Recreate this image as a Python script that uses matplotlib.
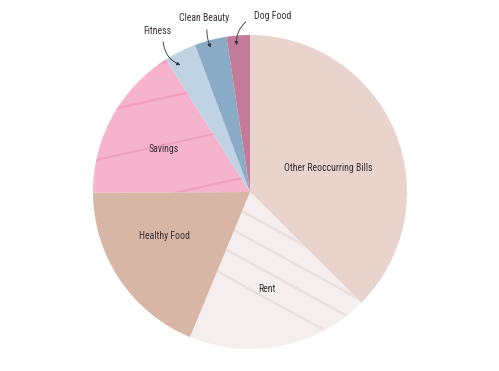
import matplotlib
matplotlib.use("Agg")
import matplotlib.pyplot as plt
import numpy as np
from matplotlib import font_manager

categories = ["Other Reoccurring Bills", "Rent", "Healthy Food", "Savings",
              "Fitness", "Clean Beauty", "Dog Food"]
values = [37.5, 18.8, 18.7, 16.1, 3.3, 3.3, 2.4]
colors = ["#e9d3cd", "#f4eeee", "#d8b6a6", "#f5b4cc", "#bfd3e5", "#8aabc5", "#c27b98"]

names = {f.name for f in font_manager.fontManager.ttflist}
stretch = 'normal'
fam = None
for cand in ["Roboto Condensed", "Liberation Sans Narrow", "Open Sans Condensed", "Noto Sans Condensed"]:
    if cand in names:
        fam = cand
        break
if fam is None:
    fam = "DejaVu Sans"
    stretch = 'condensed'
plt.rcParams['font.family'] = [fam, 'DejaVu Sans']
FS = 6.6 if stretch == 'condensed' else 7.0

W, H = 499, 371
fig = plt.figure(figsize=(W / 100, H / 100), dpi=100)
ax = fig.add_axes([0, 0, 1, 1])
R = 157.0
cx, cy = 250.0, 192.0

wedges, _ = ax.pie(values, colors=colors, startangle=90, counterclock=False,
                   radius=1.0, center=(0, 0), frame=True,
                   wedgeprops=dict(linewidth=0))
ax.set_xlim(-cx / R, (W - cx) / R)
ax.set_ylim(-(H - cy) / R, cy / R)
ax.set_aspect('auto')
ax.axis('off')

# decorative stripes
def stripes(wedge, offsets, slope, color, lw):
    xs = np.array([-1.2, 1.2])
    for b, w in zip(offsets, lw):
        ln, = ax.plot(xs, slope * xs + b, color=color, lw=w, solid_capstyle='butt', alpha=0.85)
        ln.set_clip_path(wedge)

stripes(wedges[3], [0.95, 0.72, 0.42, 0.10], 0.22, "#ee9dbe", [2.4, 1.8, 1.4, 1.6])
stripes(wedges[1], [-0.15, -0.30, -0.45, -0.62], -0.55, "#e9dede", [2.0, 1.8, 2.0, 1.8])

txt = "#3a3035"
def P(x, y):
    return ((x - cx) / R, (cy - y) / R)

def lab(s, x, y):
    ax.text(*P(x, y), s, ha='center', va='center', fontsize=FS, color=txt,
            fontstretch=stretch)

lab("Other Reoccurring Bills", 328, 168)
lab("Savings", 164, 149)
lab("Healthy Food", 164, 236)
lab("Rent", 267, 289)

def ann(s, tx, ty, sx, sy, ex, ey, rad):
    lab(s, tx, ty)
    ax.annotate("", xy=P(ex, ey), xytext=P(sx, sy),
                arrowprops=dict(arrowstyle='-|>', color="#333333", lw=0.6,
                                mutation_scale=5,
                                connectionstyle=f"arc3,rad={rad}"))

ann("Fitness", 157, 31, 163, 39, 183, 66, 0.35)
ann("Clean Beauty", 204, 18, 207, 27, 212, 50, 0.15)
ann("Dog Food", 273, 16, 248, 20, 237, 48, 0.3)

fig.savefig("out.png", dpi=100)
